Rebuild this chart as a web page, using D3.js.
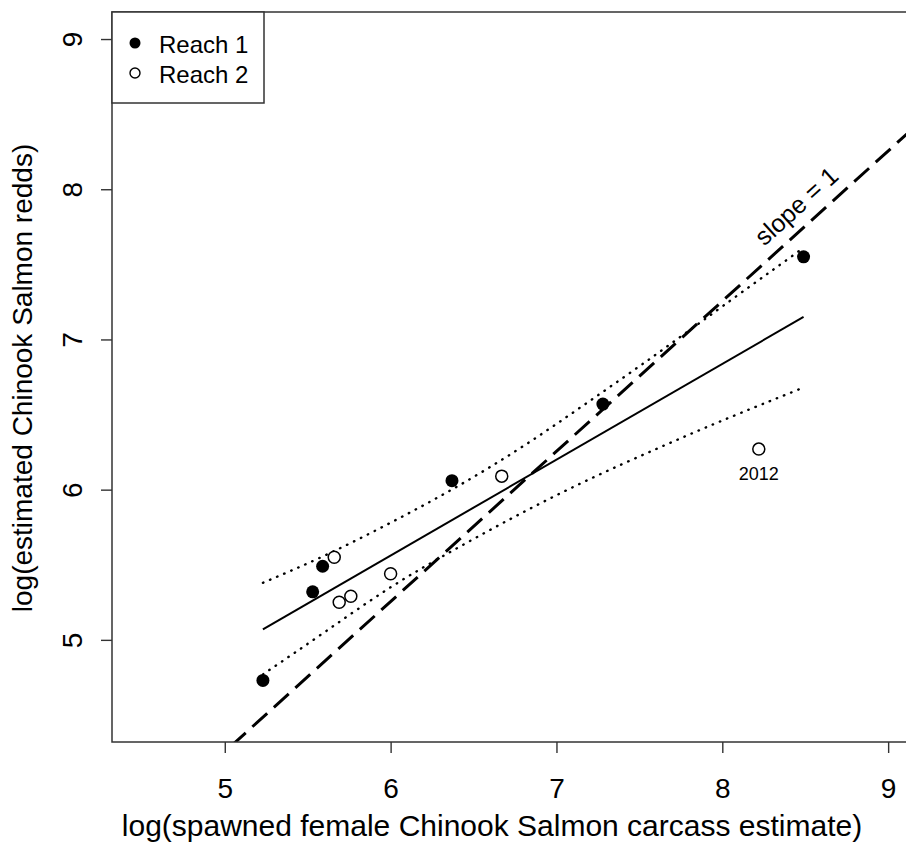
<!DOCTYPE html>
<html>
<head>
<meta charset="utf-8">
<script src="https://cdn.jsdelivr.net/npm/d3@7/dist/d3.min.js"></script>
<style>
  html, body { margin: 0; padding: 0; background: #fff; overflow: hidden; }
  text { font-family: "Liberation Sans", Arial, sans-serif; fill: #000; }
</style>
</head>
<body>
<svg id="chart" width="906" height="843"></svg>
<script>
// ---- data ----
const reach1X = [5.23, 5.53, 5.59, 6.37, 7.28, 8.49];
const reach1Y = [4.73, 5.32, 5.49, 6.06, 6.57, 7.55];
const reach2X = [5.66, 5.69, 5.76, 6.00, 6.67, 8.22];
const reach2Y = [5.55, 5.25, 5.29, 5.44, 6.09, 6.27];
const labelYear = "2012";

// fitted line and 95% confidence band
const fitX   = [5.23, 8.49];
const fitY   = [5.07, 7.15];
const bandX  = [5.23, 5.60, 6.00, 6.40, 6.80, 7.20, 7.60, 8.00, 8.49];
const bandHi = [5.38, 5.56, 5.78, 6.02, 6.29, 6.59, 6.90, 7.22, 7.61];
const bandLo = [4.77, 5.05, 5.35, 5.61, 5.85, 6.07, 6.27, 6.46, 6.68];

// reference line y = x + b (slope = 1)
const oneToOneX = [4.0, 10.0];
const oneToOneIntercept = -0.745;

const xTicks = [5, 6, 7, 8, 9];
const yTicks = [5, 6, 7, 8, 9];
const xTitle = "log(spawned female Chinook Salmon carcass estimate)";
const yTitle = "log(estimated Chinook Salmon redds)";
const legendLabels = ["Reach 1", "Reach 2"];

// ---- layout ----
const svg = d3.select("#chart");
const L = 112, T = 12, R = 918, B = 742;
const x = d3.scaleLinear().domain([4.32, 9.18]).range([L, R]);
const y = d3.scaleLinear().domain([4.32, 9.18]).range([B, T]);

svg.append("defs").append("clipPath").attr("id", "clip")
  .append("rect").attr("x", L).attr("y", T).attr("width", R - L).attr("height", B - T);

const plot = svg.append("g").attr("clip-path", "url(#clip)");

// slope = 1 line
plot.append("path")
  .datum(oneToOneX.map(v => [v, v + oneToOneIntercept]))
  .attr("d", d3.line().x(d => x(d[0])).y(d => y(d[1])))
  .attr("fill", "none").attr("stroke", "#000").attr("stroke-width", 3)
  .attr("stroke-dasharray", "20,9");

// confidence band (dotted)
[bandHi, bandLo].forEach(arr => {
  plot.append("path")
    .datum(bandX.map((v, i) => [v, arr[i]]))
    .attr("d", d3.line().x(d => x(d[0])).y(d => y(d[1])).curve(d3.curveNatural))
    .attr("fill", "none").attr("stroke", "#000").attr("stroke-width", 2.4)
    .attr("stroke-dasharray", "0.5,7.2").attr("stroke-linecap", "round");
});

// fitted line
plot.append("path")
  .datum(fitX.map((v, i) => [v, fitY[i]]))
  .attr("d", d3.line().x(d => x(d[0])).y(d => y(d[1])))
  .attr("fill", "none").attr("stroke", "#000").attr("stroke-width", 2);

// points
plot.selectAll("circle.r1").data(reach1X.map((v, i) => [v, reach1Y[i]]))
  .enter().append("circle").attr("class", "r1")
  .attr("cx", d => x(d[0])).attr("cy", d => y(d[1])).attr("r", 6.5)
  .attr("fill", "#000");
plot.selectAll("circle.r2").data(reach2X.map((v, i) => [v, reach2Y[i]]))
  .enter().append("circle").attr("class", "r2")
  .attr("cx", d => x(d[0])).attr("cy", d => y(d[1])).attr("r", 6)
  .attr("fill", "#fff").attr("stroke", "#000").attr("stroke-width", 1.5);

// 2012 label
svg.append("text")
  .attr("x", x(reach2X[5])).attr("y", y(reach2Y[5]) + 31)
  .attr("text-anchor", "middle").attr("font-size", 18).text(labelYear);

// slope = 1 label
{
  const lx = 8.45, ly = lx + oneToOneIntercept;
  const ang = Math.atan2(y(ly + 1) - y(ly), x(lx + 1) - x(lx)) * 180 / Math.PI;
  svg.append("text")
    .attr("transform", `translate(${x(lx)},${y(ly)}) rotate(${ang})`)
    .attr("x", 18).attr("y", -12)
    .attr("text-anchor", "middle").attr("font-size", 25).text("slope = 1");
}

// box
svg.append("rect").attr("x", L).attr("y", T).attr("width", R - L).attr("height", B - T)
  .attr("fill", "none").attr("stroke", "#333").attr("stroke-width", 1.5);

// axes
const xAxis = svg.append("g").attr("transform", `translate(0,${B})`)
  .call(d3.axisBottom(x).tickValues(xTicks).tickSize(11).tickFormat(d3.format("d")));
const yAxis = svg.append("g").attr("transform", `translate(${L},0)`)
  .call(d3.axisLeft(y).tickValues(yTicks).tickSize(11).tickFormat(d3.format("d")));
[xAxis, yAxis].forEach(g => {
  g.select(".domain").remove();
  g.selectAll(".tick line").attr("stroke", "#333").attr("stroke-width", 1.4);
  g.selectAll(".tick text").attr("font-size", 28)
    .attr("font-family", "Liberation Sans, Arial, sans-serif").attr("fill", "#000");
});
xAxis.selectAll(".tick text").attr("dy", null).attr("y", 798 - B);
yAxis.selectAll(".tick text")
  .attr("text-anchor", "middle").attr("dy", null).attr("x", null)
  .attr("transform", `translate(${82 - L},0) rotate(-90)`)
  .attr("x", 0).attr("y", 0);

// axis titles
svg.append("text").attr("x", 492).attr("y", 836).attr("text-anchor", "middle")
  .attr("font-size", 30).text(xTitle);
svg.append("text").attr("transform", "translate(32,378) rotate(-90)")
  .attr("text-anchor", "middle").attr("font-size", 28).text(yTitle);

// legend
const lg = svg.append("g");
lg.append("rect").attr("x", L).attr("y", T).attr("width", 152).attr("height", 91)
  .attr("fill", "#fff").attr("stroke", "#333").attr("stroke-width", 1.5);
lg.append("circle").attr("cx", 135).attr("cy", 43).attr("r", 5.5).attr("fill", "#000");
lg.append("circle").attr("cx", 135).attr("cy", 73).attr("r", 5).attr("fill", "#fff")
  .attr("stroke", "#000").attr("stroke-width", 1.4);
lg.append("text").attr("x", 159).attr("y", 52.5).attr("font-size", 24).text(legendLabels[0]);
lg.append("text").attr("x", 159).attr("y", 82.5).attr("font-size", 24).text(legendLabels[1]);
</script>
</body>
</html>
